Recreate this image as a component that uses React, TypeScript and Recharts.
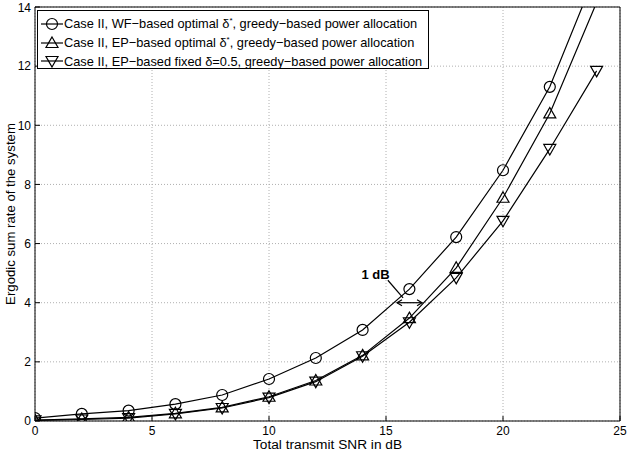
import React from 'react';
import { LineChart, Line, XAxis, YAxis, CartesianGrid, ReferenceLine, ReferenceDot, Label } from 'recharts';

const snr = [0, 2, 4, 6, 8, 10, 12, 14, 16, 18, 20, 22, 24];
const wfOptimal = [0.1, 0.24, 0.35, 0.57, 0.88, 1.42, 2.13, 3.08, 4.46, 6.22, 8.48, 11.3, 15.2];
const epOptimal = [0.03, 0.07, 0.12, 0.26, 0.46, 0.82, 1.37, 2.22, 3.48, 5.18, 7.55, 10.4, 14.15];
const epFixed = [0.02, 0.05, 0.1, 0.24, 0.44, 0.79, 1.33, 2.19, 3.34, 4.84, 6.77, 9.2, 11.84];
const xTicks = [0, 5, 10, 15, 20, 25];
const yTicks = [0, 2, 4, 6, 8, 10, 12, 14];
const legendLabels = [
  ['Case II, WF\u2212based optimal \u03b4', '*', ', greedy\u2212based power allocation'],
  ['Case II, EP\u2212based optimal \u03b4', '*', ', greedy\u2212based power allocation'],
  ['Case II, EP\u2212based fixed \u03b4=0.5, greedy\u2212based power allocation', '', ''],
];

const data = snr.map((x, i) => ({ x, wf: wfOptimal[i], ep: epOptimal[i], fx: epFixed[i] }));

const FONT = '"Liberation Sans", Arial, Helvetica, sans-serif';
const Y_MAX = 14;

type Kind = 'circle' | 'up' | 'down';

function markerPath(kind: Kind, cx: number, cy: number) {
  const s = 6;
  if (kind === 'up') return `M${cx},${cy - s} L${cx + s},${cy + s * 0.75} L${cx - s},${cy + s * 0.75} Z`;
  return `M${cx},${cy + s} L${cx + s},${cy - s * 0.75} L${cx - s},${cy - s * 0.75} Z`;
}

function makeDot(kind: Kind, key: string) {
  return (props: any) => {
    const { cx, cy, index, payload } = props;
    if (payload[key] > Y_MAX || cx == null || cy == null) return <g key={`${key}-${index}`} />;
    if (kind === 'circle')
      return <circle key={`${key}-${index}`} cx={cx} cy={cy} r={5.5} fill="none" stroke="#000" strokeWidth={1.2} />;
    return <path key={`${key}-${index}`} d={markerPath(kind, cx, cy)} fill="none" stroke="#000" strokeWidth={1.2} />;
  };
}

function LegendBox() {
  const kinds: Kind[] = ['circle', 'up', 'down'];
  return (
    <div
      style={{
        position: 'absolute',
        left: 37,
        top: 10,
        width: 392,
        height: 59,
        background: '#fff',
        border: '1px solid #000',
        boxSizing: 'border-box',
        fontFamily: FONT,
        fontSize: 12.8,
        color: '#000',
      }}
    >
      {kinds.map((k, i) => (
        <div key={k} style={{ position: 'absolute', left: 2, top: 4 + i * 18.5, height: 18, display: 'flex', alignItems: 'center', whiteSpace: 'nowrap' }}>
          <svg width={23} height={18} style={{ marginRight: 1 }}>
            <line x1={1} y1={9} x2={23} y2={9} stroke="#000" strokeWidth={1.2} />
            {k === 'circle' ? (
              <circle cx={12} cy={9} r={5.5} fill="none" stroke="#000" strokeWidth={1.2} />
            ) : (
              <path d={markerPath(k, 12, 9)} fill="none" stroke="#000" strokeWidth={1.2} />
            )}
          </svg>
          <span>
            {legendLabels[i][0]}
            {legendLabels[i][1] ? <sup style={{ fontSize: 8 }}>{legendLabels[i][1]}</sup> : null}
            {legendLabels[i][2]}
          </span>
        </div>
      ))}
    </div>
  );
}

const ArrowShape = (p: any) => {
  const { x1, y1, x2, y2 } = p;
  const h = 5;
  return (
    <g stroke="#000" strokeWidth={1.2} fill="none">
      <line x1={x1} y1={y1} x2={x2} y2={y2} />
      <path d={`M${x1 + h},${y1 - h * 0.6} L${x1},${y1} L${x1 + h},${y1 + h * 0.6}`} />
      <path d={`M${x2 - h},${y2 - h * 0.6} L${x2},${y2} L${x2 - h},${y2 + h * 0.6}`} />
    </g>
  );
};

export default function App() {
  return (
    <div style={{ position: 'absolute', left: 0, top: 0, width: 627, height: 451, background: '#fff' }}>
      <LineChart width={627} height={451} data={data} margin={{ top: 7, right: 7, bottom: 0, left: 0 }} style={{ fontFamily: FONT }}>
        <CartesianGrid stroke="#b0b0b0" strokeDasharray="1 2" />
        <XAxis
          dataKey="x"
          type="number"
          domain={[0, 25]}
          ticks={xTicks}
          height={30}
          axisLine={{ stroke: '#000' }}
          tickLine={{ stroke: '#000' }}
          tickSize={-5}
          tickMargin={10}
          tick={{ fill: '#000', fontSize: 12, fontFamily: FONT }}
          allowDataOverflow
        >
          <Label value="Total transmit SNR in dB" position="insideBottom" offset={2} style={{ fill: '#000', fontSize: 13.7, fontFamily: FONT }} />
        </XAxis>
        <YAxis
          type="number"
          domain={[0, 14]}
          ticks={yTicks}
          width={35}
          axisLine={{ stroke: '#000' }}
          tickLine={{ stroke: '#000' }}
          tickSize={-5}
          tickMargin={9}
          tick={{ fill: '#000', fontSize: 12, fontFamily: FONT }}
          allowDataOverflow
        >
          <Label
            content={(props: any) => {
              const vb = props.viewBox || {};
              const cx = 10;
              const cy = vb.y + vb.height / 2;
              return (
                <text x={cx} y={cy} transform={`rotate(-90 ${cx} ${cy})`} textAnchor="middle" dominantBaseline="central" fill="#000" fontSize={13.2} fontFamily={FONT}>
                  Ergodic sum rate of the system
                </text>
              );
            }}
          />
        </YAxis>
        <ReferenceLine y={14} stroke="#000" strokeWidth={1} />
        <ReferenceLine x={25} stroke="#000" strokeWidth={1} />
        <Line dataKey="wf" stroke="#000" strokeWidth={1.2} dot={makeDot('circle', 'wf')} isAnimationActive={false} />
        <Line dataKey="ep" stroke="#000" strokeWidth={1.2} dot={makeDot('up', 'ep')} isAnimationActive={false} />
        <Line dataKey="fx" stroke="#000" strokeWidth={1.2} dot={makeDot('down', 'fx')} isAnimationActive={false} />
        <ReferenceLine segment={[{ x: 15.08, y: 4.76 }, { x: 15.73, y: 4.16 }]} stroke="#000" strokeWidth={1.2} />
        <ReferenceLine segment={[{ x: 15.47, y: 4.0 }, { x: 16.54, y: 4.0 }]} shape={ArrowShape} />
        <ReferenceDot x={14.55} y={4.95} r={0} stroke="none" fill="none">
          <Label value="1 dB" position="center" style={{ fill: '#000', fontSize: 13, fontWeight: 'bold', fontFamily: FONT }} />
        </ReferenceDot>
      </LineChart>
      <LegendBox />
    </div>
  );
}
